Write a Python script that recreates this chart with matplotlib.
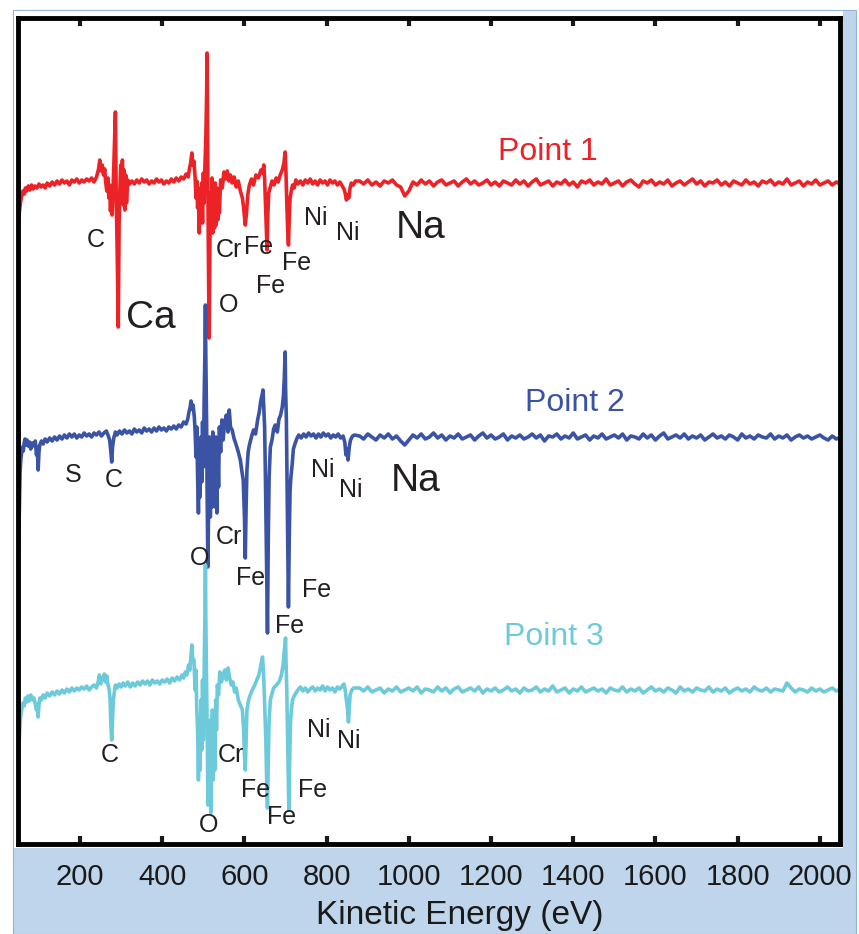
import numpy as np
import matplotlib.pyplot as plt
from matplotlib.patches import Rectangle

plt.rcParams['font.family'] = ['Liberation Sans', 'DejaVu Sans']

# spectra: (kinetic energy eV, dN/dE arb. units) for the low-energy part
point1 = [(46, -57), (48, -50), (50, -40), (52, -30), (55, -20), (58, -12), (61, -8), (64, -11),
          (67, -5), (70, -8), (74, -3), (78, -7), (82, -2), (86, -6), (90, -3), (95, -5),
          (100, -1), (105, -4), (110, -2), (115, -5), (120, 0), (126, -3), (132, 1), (138, -2),
          (144, 2), (150, -1), (156, 3), (162, 0), (168, 2), (174, -2), (180, 3), (186, 1),
          (192, 4), (198, 0), (204, 3), (210, 1), (216, 4), (222, 2), (228, 5), (234, 1),
          (240, 6), (245, 14), (248, 23), (251, 12), (254, 18), (257, 8), (260, 14), (262, 2),
          (265, -8), (268, 5), (270, -15), (272, -2), (274, -28), (276, -5), (278, -32), (280, -8),
          (282, 15), (284, 45), (286, 71), (287, 30), (288, -15), (290, -60), (293, -144), (295, -40),
          (297, -5), (299, 18), (301, -15), (303, 23), (305, -22), (307, 13), (309, -27), (311, 8),
          (313, -20), (316, 3), (320, -1), (326, 2), (332, -1), (338, 3), (344, 0), (350, 4),
          (356, 1), (362, 3), (368, -1), (374, 2), (380, 0), (386, 4), (392, 1), (398, 3),
          (404, -1), (410, 2), (416, 0), (422, 4), (428, 1), (434, 5), (440, 2), (446, 6),
          (452, 4), (458, 9), (463, 6), (466, 14), (469, 20), (472, 30), (474, 18), (477, 22),
          (480, 5), (482, -15), (484, 2), (486, -25), (488, -5), (490, -50), (492, -10), (494, -35),
          (496, 0), (498, -40), (500, 10), (502, -20), (504, 20), (506, 45), (508, 90), (509, 130),
          (510, 60), (511, 0), (512, -60), (514, -155), (516, -60), (517, -10), (519, -45), (521, 5),
          (523, -50), (525, -5), (527, -45), (529, 0), (531, -42), (533, -5), (535, -37), (537, -10),
          (539, -30), (542, 3), (546, -5), (550, 11), (554, 4), (558, 12), (562, 2), (566, 8),
          (570, 0), (575, 6), (580, -4), (585, 2), (590, -8), (595, -15), (598, -25), (602, -42),
          (605, -30), (608, -12), (612, -2), (617, 4), (622, -2), (628, 8), (634, 5), (640, 13),
          (644, 10), (647, 18), (649, 5), (651, -20), (653, -45), (655, -67), (657, -30), (659, -10),
          (663, -4), (667, 2), (672, -2), (677, 5), (682, 1), (687, 8), (692, 13), (696, 20),
          (699, 31), (701, 10), (703, -20), (705, -45), (707, -62), (709, -35), (711, -15), (714, -8),
          (717, -2), (721, -5), (725, 3), (730, -1), (736, 2), (742, -2), (748, 3), (754, 0),
          (760, 4), (766, -1), (772, 2), (778, -2), (784, 3), (790, 0), (796, 2), (802, -2),
          (808, 3), (814, 0), (820, 2), (826, -2), (832, 1), (838, -3), (842, -6), (845, -10),
          (848, -17), (851, -12), (854, -15), (857, -5), (860, 0), (865, -2), (870, 2)]

point2 = [(46, -196), (48, -163), (50, -120), (52, -80), (54, -36), (56, -22), (58, -15), (60, -10),
          (62, -14), (64, -6), (66, -2), (68, -8), (71, -3), (74, -9), (77, -5), (80, -12),
          (84, -6), (88, -9), (91, -4), (94, -18), (96, -10), (98, -33), (100, -15), (102, -8),
          (106, -4), (110, -7), (115, -2), (120, -5), (126, -1), (132, -4), (138, 0), (144, -3),
          (150, 1), (156, -2), (162, 2), (168, -1), (174, 3), (180, 0), (186, 3), (192, -1),
          (198, 2), (204, 0), (210, 4), (216, 1), (222, 3), (228, 0), (234, 4), (240, 2),
          (246, 5), (252, 1), (258, 4), (264, 6), (268, 2), (272, -3), (275, -15), (277, -25),
          (279, -10), (282, -1), (286, 5), (290, 2), (296, 6), (302, 3), (308, 7), (314, 4),
          (320, 6), (326, 3), (332, 8), (338, 5), (344, 7), (350, 4), (356, 9), (362, 6),
          (368, 8), (374, 5), (380, 9), (386, 6), (392, 10), (398, 7), (404, 9), (410, 6),
          (416, 10), (422, 8), (428, 11), (434, 8), (440, 12), (446, 10), (452, 15), (458, 13),
          (462, 18), (465, 25), (468, 30), (470, 36), (472, 28), (475, 32), (478, 20), (480, 5),
          (482, -20), (484, 10), (486, -40), (488, -76), (490, -20), (492, -60), (494, 0), (496, -45),
          (498, 15), (500, -30), (502, 40), (504, 90), (505, 132), (506, 80), (508, 10), (509, -50),
          (511, -130), (513, -60), (515, 0), (517, -80), (519, -10), (521, -70), (523, 5), (525, -63),
          (527, -5), (529, -70), (531, 0), (533, -76), (535, -10), (537, -50), (539, 10), (542, -15),
          (545, 17), (548, -3), (552, 15), (556, 22), (560, 5), (563, 27), (566, 10), (570, 7),
          (575, -2), (580, -8), (585, -15), (590, -23), (594, -35), (597, -43), (600, -80), (602, -121),
          (604, -70), (606, -33), (609, -15), (612, -8), (617, 0), (622, 7), (627, 3), (632, 17),
          (636, 25), (640, 37), (643, 42), (645, 47), (647, 30), (649, 10), (651, -40), (653, -100),
          (655, -160), (656, -196), (658, -100), (660, -40), (663, -10), (667, -3), (671, 8), (675, 12),
          (680, 5), (684, 18), (688, 22), (692, 30), (695, 42), (697, 60), (699, 85), (700, 50),
          (702, 17), (704, -60), (706, -130), (707, -170), (709, -100), (711, -53), (713, -40), (716, -28),
          (719, -12), (722, -8), (727, -2), (732, 2), (738, -1), (744, 3), (750, 0), (756, 4),
          (762, 1), (768, 3), (774, -1), (780, 3), (786, 0), (792, 4), (798, 1), (804, 3),
          (810, -1), (816, 2), (822, 0), (828, 3), (834, -1), (840, 1), (844, -5), (847, -18),
          (850, -12), (852, -23), (855, -10), (858, -3), (863, 1), (868, 2)]

point3 = [(46, -113), (48, -90), (50, -70), (52, -50), (55, -28), (58, -20), (61, -13), (64, -16),
          (67, -8), (70, -12), (73, -6), (76, -11), (80, -5), (84, -10), (88, -8), (91, -14),
          (94, -20), (96, -14), (98, -27), (100, -15), (102, -8), (106, -10), (110, -5), (115, -8),
          (120, -3), (126, -6), (132, -2), (138, -5), (144, -1), (150, -4), (156, 0), (162, -3),
          (168, 1), (174, -2), (180, 2), (186, -1), (192, 2), (198, 0), (204, 3), (210, 1),
          (216, 4), (222, 0), (228, 3), (234, 5), (240, 2), (244, 8), (247, 15), (250, 6),
          (253, 12), (256, 10), (259, 16), (262, 8), (265, 14), (268, 5), (271, 0), (273, -10),
          (275, -35), (277, -50), (279, -30), (281, -10), (284, 0), (286, 5), (290, 2), (295, 6),
          (300, 3), (305, 7), (310, 4), (316, 8), (322, 3), (328, 7), (334, 4), (340, 8),
          (346, 5), (352, 9), (358, 6), (364, 9), (370, 5), (376, 10), (382, 7), (388, 9),
          (394, 6), (400, 10), (406, 8), (412, 11), (418, 7), (424, 12), (430, 9), (436, 13),
          (442, 10), (448, 15), (452, 12), (456, 18), (460, 15), (464, 25), (467, 20), (470, 35),
          (472, 45), (474, 32), (477, 30), (480, 0), (482, 20), (484, -20), (486, -40), (488, -90),
          (490, -30), (492, -80), (494, -10), (496, -60), (498, 10), (500, -50), (502, 20), (504, 80),
          (505, 125), (506, 70), (508, 0), (510, -60), (511, -115), (513, -50), (515, -100), (517, -30),
          (518, -123), (520, -60), (522, -20), (524, -90), (526, -40), (528, -80), (530, -10), (532, -40),
          (534, 5), (537, -5), (540, 18), (544, 8), (548, 15), (552, 20), (556, 10), (560, 22),
          (564, 12), (568, 5), (572, 8), (576, -2), (580, 2), (585, -10), (590, -15), (595, -20),
          (598, -40), (600, -65), (602, -80), (604, -50), (606, -20), (610, -10), (614, -5), (619, 0),
          (625, 5), (630, 10), (635, 15), (640, 25), (644, 33), (646, 20), (648, 0), (650, -25),
          (652, -50), (654, -90), (656, -118), (658, -70), (660, -30), (663, -10), (666, -5), (671, 2),
          (678, 5), (684, 8), (690, 15), (694, 25), (697, 40), (700, 52), (701, 30), (703, 0),
          (705, -50), (707, -100), (708, -120), (710, -70), (712, -33), (714, -20), (717, -10), (721, -6),
          (725, -3), (730, 0), (736, 3), (742, -1), (748, 2), (754, -2), (760, 1), (766, 3),
          (772, -1), (778, 2), (784, 0), (790, 4), (796, -1), (802, 3), (808, 0), (814, 2),
          (820, -2), (826, 3), (832, 1), (838, 4), (842, 6), (845, 0), (848, -10), (851, -20),
          (853, -32), (855, -18), (857, -5), (861, 0), (866, 2)]

# flat high-energy part, 10 eV steps
tail_energy = [880, 890, 900, 910, 920, 930, 940, 950, 960, 970,
               980, 990, 1000, 1010, 1020, 1030, 1040, 1050, 1060, 1070,
               1080, 1090, 1100, 1110, 1120, 1130, 1140, 1150, 1160, 1170,
               1180, 1190, 1200, 1210, 1220, 1230, 1240, 1250, 1260, 1270,
               1280, 1290, 1300, 1310, 1320, 1330, 1340, 1350, 1360, 1370,
               1380, 1390, 1400, 1410, 1420, 1430, 1440, 1450, 1460, 1470,
               1480, 1490, 1500, 1510, 1520, 1530, 1540, 1550, 1560, 1570,
               1580, 1590, 1600, 1610, 1620, 1630, 1640, 1650, 1660, 1670,
               1680, 1690, 1700, 1710, 1720, 1730, 1740, 1750, 1760, 1770,
               1780, 1790, 1800, 1810, 1820, 1830, 1840, 1850, 1860, 1870,
               1880, 1890, 1900, 1910, 1920, 1930, 1940, 1950, 1960, 1970,
               1980, 1990, 2000, 2010, 2020, 2030, 2040, 2050, 2060]
tail_1 = [2, -1, 3, -2, 1, -3, 2, 0, 3, -2,
          -4, -13, -8, 1, -2, 3, -1, 2, -3, 1,
          3, -2, 0, 2, -3, 1, 4, -1, 2, -2,
          0, 3, -2, 1, -3, 2, 0, -2, 3, -1,
          2, -3, 1, 4, -2, 0, 2, -3, 1, -1,
          3, -2, 1, -4, 2, 0, 3, -2, 1, -1,
          4, -2, 0, 2, -3, 1, 3, -1, -4, 2,
          0, 3, -2, 1, -1, 3, -3, 0, 2, -2,
          1, 4, -1, 2, -3, 1, 0, 3, -2, 1,
          -3, 2, 0, -2, 3, -1, 1, -3, 2, 0,
          3, -2, 1, -1, 4, -2, 0, 2, -3, 1,
          -1, 3, -2, 0, 2, -2, 1, -1, 0]
tail_2 = [1, -2, 3, 0, -3, 2, -1, 3, -2, 1,
          -4, -8, -3, 2, -1, 3, -2, 0, 4, -1,
          2, -3, 1, -1, 3, -2, 0, 2, -3, 1,
          4, -1, 2, -2, 0, 3, -3, 1, -1, 2,
          -2, 0, 3, -1, 2, -4, 1, 0, 3, -2,
          1, -1, 4, -2, 0, 2, -3, 1, -1, 3,
          -2, 0, 2, -1, 3, -3, 1, 0, -2, 3,
          -1, 2, -3, 1, 4, -2, 0, 2, -1, 3,
          -2, 1, -1, 2, -3, 0, 3, -1, 1, -2,
          2, 0, -3, 3, -1, 1, -2, 2, 0, -1,
          3, -2, 1, -1, 2, -3, 0, 2, -1, 1,
          -2, 0, 2, -1, -3, 1, -2, 0, -1]
tail_3 = [2, -1, 3, -2, 0, 2, -3, 1, -1, 3,
          -2, 0, 2, -1, 3, -3, 1, 0, -2, 3,
          -1, 2, -3, 1, 3, -2, 0, 2, -1, 3,
          -3, 1, -1, 2, -2, 0, 3, -1, 1, -3,
          2, -1, 0, 3, -2, 1, -1, 4, -2, 0,
          2, -3, 1, -1, 3, -2, 0, 2, -1, 1,
          -3, 2, 0, -1, 3, -2, 1, -1, 2, -3,
          0, 3, -1, 1, -2, 2, 0, -3, 3, -1,
          1, -2, 2, 0, -1, 3, -2, 1, -1, 2,
          -3, 0, 2, -1, 1, -2, 3, 0, -1, 2,
          -2, 1, 0, -1, 7, 2, -2, 1, 0, -2,
          2, -1, 1, -2, 0, 2, -1, 1, 0]

offsets = [660, 406, 153]
colors = ['#ec2227', '#3a53a4', '#6ccadb']
names = ['Point 1', 'Point 2', 'Point 3']
name_pos = [(1339, 691), (1405, 440), (1354, 206)]

# peak labels (text, energy, height)
labels_small = [("C", 237, 603), ("O", 561, 538), ("Cr", 563, 593), ("Fe", 634, 596),
                ("Fe", 663, 557), ("Fe", 727, 580), ("Ni", 773, 625), ("Ni", 851, 610),
                ("S", 183, 368), ("C", 283, 363), ("O", 490, 285), ("Cr", 563, 306),
                ("Fe", 615, 265), ("Fe", 710, 217), ("Fe", 776, 253), ("Ni", 790, 373),
                ("Ni", 859, 353),
                ("C", 273, 88), ("Cr", 566, 88), ("Fe", 627, 53), ("Fe", 690, 26),
                ("Fe", 766, 53), ("O", 512, 18), ("Ni", 781, 113), ("Ni", 854, 102)]
labels_big = [("Ca", 371, 525), ("Na", 1029, 615), ("Na", 1017, 362)]

fig = plt.figure(figsize=(8.59, 9.34), dpi=100)
W, H = 859.0, 934.0
fig.add_artist(Rectangle((13 / W, 0), 843 / W, 924 / H, transform=fig.transFigure,
                         facecolor='#bfd5eb', edgecolor='#8fb4dc', lw=0.8, zorder=0))
fig.add_artist(Rectangle((14 / W, 86 / H), 829 / W, 837 / H, transform=fig.transFigure,
                         facecolor='white', edgecolor='none', zorder=0))

ax = fig.add_axes([18 / W, 90 / H, 822 / W, 826 / H])
ax.set_facecolor('none')

for data, tail, off, c in zip([point1, point2, point3], [tail_1, tail_2, tail_3], offsets, colors):
    e = [p[0] for p in data] + tail_energy
    s = [p[1] for p in data] + tail
    ax.plot(np.array(e), np.array(s) + off, color=c, lw=2.6)

for nm, (px, py), c in zip(names, name_pos, colors):
    ax.text(px, py, nm, color=c, fontsize=23, ha='center', va='center')

for txt, px, py in labels_small:
    ax.text(px, py, txt, color='#231f20', fontsize=18, ha='center', va='center')
for txt, px, py in labels_big:
    ax.text(px, py, txt, color='#231f20', fontsize=28, ha='center', va='center')

ax.set_xlim(49, 2049)
ax.set_ylim(-1, 825)
ax.set_xticks([200, 400, 600, 800, 1000, 1200, 1400, 1600, 1800, 2000])
ax.set_yticks([])
ax.tick_params(axis='x', direction='in', length=6, width=3, top=True, labeltop=False,
               labelsize=21, pad=14, colors='#1a1a1a')
for sp in ax.spines.values():
    sp.set_linewidth(3.5)
ax.set_xlabel('Kinetic Energy (eV)', fontsize=24, color='#1a1a1a')
ax.xaxis.set_label_coords(0.538, -0.086)
ax.xaxis.label.set_va('center')

fig.savefig('out.png', dpi=100)
